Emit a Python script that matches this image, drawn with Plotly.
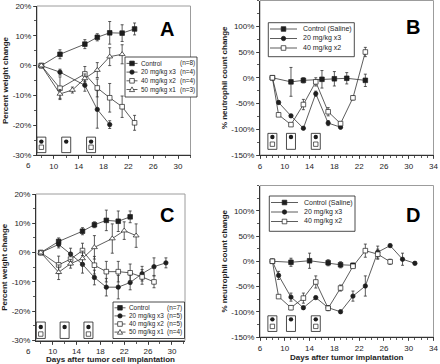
import plotly.graph_objects as go

W, H = 440, 364
FONT = "Liberation Sans, Arial, Helvetica, sans-serif"
INK = "#1e1e1e"
LINEC = "#333333"
FRAME = "#9c9c9c"

# ---------------- data ----------------
# Panel A - percent weight change
a_ctrl_days = [8, 11, 15, 17, 19, 21, 23]
a_ctrl = [0, 3.8, 7.2, 9.5, 11.0, 10.9, 12.3]
a_ctrl_err = [0, 1.5, 1.5, 1.2, 3.8, 2.8, 2.0]
a_20_days = [8, 11, 15, 17, 19]
a_20 = [0, -2.2, -6.6, -14.7, -19.8]
a_20_err = [0, 1.0, 2.0, 6.3, 1.3]
a_40_days = [8, 11, 15, 17, 19, 21, 23]
a_40 = [0, -7.6, -2.8, -7.5, -10.8, -13.8, -19.2]
a_40_err = [0, 3.8, 2.5, 3.0, 4.8, 3.6, 2.5]
a_50_days = [8, 11, 13, 15, 17, 19, 21]
a_50 = [0, -9.5, -8.2, -4.3, -1.5, 3.0, 3.8]
a_50_err = [0, 1.5, 1.0, 1.5, 2.5, 3.0, 3.2]

# Panel B - % neutrophil count change
b_ctrl_days = [8, 11, 13, 16, 18, 20, 23]
b_ctrl = [0, -8, -5, -3, -2, -1, -5]
b_ctrl_err = [0, 28, 5, 17, 14, 11, 12]
b_20_days = [8, 9, 11, 13, 15, 17, 19]
b_20 = [0, -48, -74, -98, -31, -88, -96]
b_20_err = [0, 3, 3, 2, 5, 5, 3]
b_40_days = [8, 9, 11, 13, 15, 17, 19, 21, 23]
b_40 = [0, -72, -91, -52, -8, -66, -89, -39, 50]
b_40_err = [0, 3, 3, 10, 8, 8, 3, 4, 9]

# Panel C - percent weight change
c_ctrl_days = [8, 11, 15, 17, 19, 21, 23]
c_ctrl = [0, 3.8, 7.3, 9.5, 11.0, 10.7, 12.2]
c_ctrl_err = [0, 1.2, 1.2, 1.0, 3.5, 3.5, 2.0]
c_20_days = [8, 11, 13, 15, 17, 19, 21, 23, 25, 27, 29]
c_20 = [0, 2.8, -0.5, -4.0, -8.5, -11.8, -11.8, -10.2, -7.2, -4.8, -3.5]
c_20_err = [0, 1.2, 2.0, 3.0, 2.5, 3.0, 4.0, 2.5, 2.5, 3.0, 1.7]
c_40_days = [8, 11, 13, 15, 17, 19, 21, 23, 25, 27]
c_40 = [0, -4.2, -2.2, 0.7, -4.3, -6.5, -6.5, -6.9, -8.3, -10.0]
c_40_err = [0, 3.0, 2.0, 2.5, 3.0, 3.5, 3.5, 3.0, 2.5, 2.0]
c_50_days = [8, 11, 13, 15, 17, 20, 22, 24]
c_50 = [0, -6.7, -3.8, -2.0, 1.8, 4.8, 7.5, 5.8]
c_50_err = [0, 2.5, 1.5, 2.5, 4.0, 5.0, 3.0, 4.0]

# Panel D - % neutrophil count change
d_ctrl_days = [8, 11, 14, 17, 19, 21]
d_ctrl = [0, -2, 1, -3, -7, -8]
d_ctrl_err = [0, 8, 15, 6, 6, 4]
d_20_days = [8, 9, 11, 13, 15, 17, 19, 21, 23, 25, 27, 29, 31]
d_20 = [0, -28, -71, -92, -72, -92, -100, -69, -49, 18, 31, 4, -4]
d_20_err = [0, 8, 8, 3, 3, 3, 3, 10, 20, 12, 3, 12, 3]
d_40_days = [8, 9, 11, 13, 15, 17, 19, 21, 23, 25, 27]
d_40 = [0, -70, -92, -73, -41, -93, -53, -10, 21, 14, -1]
d_40_err = [0, 3, 4, 10, 12, 5, 6, 3, 13, 10, 5]

# dosing days shown in the small boxes
dose_days_wt = [8, 12, 16]       # panels A, C
dose_days_neu = [8, 11, 15]      # panels B, D
dose40_index = [0, 2]            # boxes that also hold the 40 mg/kg marker

# legend texts
legend_wt = ["Control", "20 mg/kg x3", "40 mg/kg x2", "50 mg/kg x1"]
legend_a_n = ["(n=8)", "(n=4)", "(n=4)", "(n=3)"]
legend_c_n = ["(n=7)", "(n=5)", "(n=5)", "(n=4)"]
legend_neu = ["Control (Saline)", "20 mg/kg x3", "40 mg/kg x2"]

# tick labels
wt_ticks = [-30, -20, -10, 0, 10, 20]
neu_ticks = [-150, -100, -50, 0, 50, 100]
days_ticks_wt = [10, 14, 18, 22, 26, 30]
days_ticks_neu = [6, 10, 14, 18, 22, 26, 30, 34]

# ---------------- styles ----------------
STYLE = {
    "ctrl": dict(symbol="square", size=4.6, color=INK),
    "d20": dict(symbol="circle", size=4.4, color=INK),
    "d40": dict(symbol="square", size=4.6, color="white"),
    "d50": dict(symbol="triangle-up", size=5.2, color="white"),
}

# panel geometry (pixels: left, top, right, bottom) and axis ranges
PANEL = {
    "A": dict(ax="", box=(37, 6, 190.5, 155), xr=[7.3, 32.0], yr=[-30, 20]),
    "B": dict(ax="2", box=(260, 0.5, 433.5, 155), xr=[6, 34], yr=[-150, 150]),
    "C": dict(ax="3", box=(36, 194, 185, 340.5), xr=[7.2, 32.2], yr=[-30, 20]),
    "D": dict(ax="4", box=(260, 185.5, 433.5, 337), xr=[6, 34], yr=[-150, 150]),
}

SERIES = {
    "A": [("ctrl", a_ctrl_days, a_ctrl, a_ctrl_err), ("d20", a_20_days, a_20, a_20_err),
          ("d40", a_40_days, a_40, a_40_err), ("d50", a_50_days, a_50, a_50_err)],
    "B": [("ctrl", b_ctrl_days, b_ctrl, b_ctrl_err), ("d20", b_20_days, b_20, b_20_err),
          ("d40", b_40_days, b_40, b_40_err)],
    "C": [("ctrl", c_ctrl_days, c_ctrl, c_ctrl_err), ("d20", c_20_days, c_20, c_20_err),
          ("d40", c_40_days, c_40, c_40_err), ("d50", c_50_days, c_50, c_50_err)],
    "D": [("ctrl", d_ctrl_days, d_ctrl, d_ctrl_err), ("d20", d_20_days, d_20, d_20_err),
          ("d40", d_40_days, d_40, d_40_err)],
}

fig = go.Figure()

# data traces
for key, p in PANEL.items():
    xa, ya = "x" + p["ax"], "y" + p["ax"]
    for style, days, vals, errs in SERIES[key]:
        st = STYLE[style]
        fig.add_trace(go.Scatter(
            x=days, y=vals, mode="lines+markers", xaxis=xa, yaxis=ya,
            showlegend=False, cliponaxis=False,
            line=dict(color=LINEC, width=0.8),
            marker=dict(symbol=st["symbol"], size=st["size"], color=st["color"],
                        line=dict(color=INK, width=0.7)),
            error_y=dict(type="data", array=errs, color=LINEC, thickness=0.8, width=1.5),
        ))

# dose boxes + markers
DOSE = {
    "A": dict(days=dose_days_wt, lo=-29.2, hi=-24.0, c=-25.5, s=-27.4),
    "C": dict(days=dose_days_wt, lo=-29.3, hi=-23.7, c=-25.4, s=-27.8),
    "B": dict(days=dose_days_neu, lo=-139, hi=-108, c=-115, s=-129),
    "D": dict(days=dose_days_neu, lo=-139, hi=-108, c=-115, s=-129),
}
shapes = []
annotations = []
for key, dz in DOSE.items():
    p = PANEL[key]
    xa, ya = "x" + p["ax"], "y" + p["ax"]
    for d in dz["days"]:
        shapes.append(dict(type="rect", xref=xa, yref=ya, xsizemode="pixel", xanchor=d,
                           x0=-4.5, x1=4.5, y0=dz["lo"], y1=dz["hi"],
                           line=dict(color=INK, width=0.8), fillcolor="rgba(0,0,0,0)"))
    fig.add_trace(go.Scatter(x=dz["days"], y=[dz["c"]] * len(dz["days"]), mode="markers",
                             xaxis=xa, yaxis=ya, showlegend=False,
                             marker=dict(symbol="circle", size=4.4, color=INK)))
    sq_days = [dz["days"][i] for i in dose40_index]
    fig.add_trace(go.Scatter(x=sq_days, y=[dz["s"]] * len(sq_days), mode="markers",
                             xaxis=xa, yaxis=ya, showlegend=False,
                             marker=dict(symbol="square", size=4.4, color="white",
                                         line=dict(color=INK, width=0.7))))

# frames (grey top/right border)
for key, p in PANEL.items():
    shapes.append(dict(type="rect", xref="x" + p["ax"] + " domain", yref="y" + p["ax"] + " domain",
                       x0=0, x1=1, y0=0, y1=1, layer="below",
                       line=dict(color=FRAME, width=1)))


def px(x):
    return x / W


def py(y):
    return 1 - y / H


def legend_marker(style, xc, yc):
    st = STYLE[style]
    h = st["size"] / 2
    base = dict(xref="paper", yref="paper", xsizemode="pixel", ysizemode="pixel",
                xanchor=px(xc), yanchor=py(yc), line=dict(color=INK, width=0.7),
                fillcolor=st["color"], layer="above")
    if st["symbol"] == "square":
        return dict(type="rect", x0=-h, x1=h, y0=-h, y1=h, **base)
    if st["symbol"] == "circle":
        return dict(type="circle", x0=-h, x1=h, y0=-h, y1=h, **base)
    return dict(type="path", path=f"M{-h},{-h * 0.8} L{h},{-h * 0.8} L0,{h} Z", **base)


LEG = {
    "A": dict(box=(125, 57, 197, 97), rows=[63.4, 72.1, 80.8, 89.5], s0=126.5, s1=137.5,
              tx=139.5, nx=195.8, labels=legend_wt, n=legend_a_n),
    "C": dict(box=(113, 302, 184.5, 338.5), rows=[307.8, 315.9, 324.0, 332.1], s0=114.5, s1=125.5,
              tx=127.5, nx=183.3, labels=legend_wt, n=legend_c_n),
    "B": dict(box=(268.3, 22.7, 354.3, 56.7), rows=[29.0, 38.5, 48.0], s0=270, s1=297,
              tx=301.5, nx=None, labels=legend_neu, n=None),
    "D": dict(box=(269.3, 196, 355, 231.3), rows=[202.5, 212.0, 221.5], s0=271, s1=298,
              tx=302.5, nx=None, labels=legend_neu, n=None),
}
LEG_FONT = dict(size=6.4, color=INK, family=FONT)
LEG_FONT_NEU = dict(size=7.0, color=INK, family=FONT)
for key, lg in LEG.items():
    l, t, r, b = lg["box"]
    f = LEG_FONT if lg["n"] else LEG_FONT_NEU
    shapes.append(dict(type="rect", xref="paper", yref="paper", x0=px(l), x1=px(r), y0=py(b), y1=py(t),
                       line=dict(color=INK, width=0.8), fillcolor="white", layer="above"))
    styles = [s[0] for s in SERIES[key]]
    for i, (lab, yy) in enumerate(zip(lg["labels"], lg["rows"])):
        shapes.append(dict(type="line", xref="paper", yref="paper", x0=px(lg["s0"]), x1=px(lg["s1"]),
                           y0=py(yy), y1=py(yy), line=dict(color=LINEC, width=0.8), layer="above"))
        shapes.append(legend_marker(styles[i], (lg["s0"] + lg["s1"]) / 2, yy))
        annotations.append(dict(xref="paper", yref="paper", x=px(lg["tx"]), y=py(yy), text=lab,
                                showarrow=False, xanchor="left", yanchor="middle", font=f,
                                borderpad=0))
        if lg["n"]:
            annotations.append(dict(xref="paper", yref="paper", x=px(lg["nx"]), y=py(yy), text=lg["n"][i],
                                    showarrow=False, xanchor="right", yanchor="middle", font=f,
                                    borderpad=0))

# panel letters
LETTER_POS = {"A": (0.845, 0.845), "B": (0.884, 0.83), "C": (0.877, 0.855), "D": (0.884, 0.805)}
for key, (lx, ly) in LETTER_POS.items():
    p = PANEL[key]
    annotations.append(dict(xref="x" + p["ax"] + " domain", yref="y" + p["ax"] + " domain",
                            x=lx, y=ly, text=key, showarrow=False, xanchor="center", yanchor="middle",
                            font=dict(size=20, color="black", family=FONT, weight="bold")))

# "6" label left of the A / C axes (value lies just outside the drawn range)
for key in ("A", "C"):
    p = PANEL[key]
    r0, r1 = p["xr"]
    annotations.append(dict(xref="x" + p["ax"] + " domain", yref="y" + p["ax"] + " domain",
                            x=(6 - r0) / (r1 - r0), y=0, yshift=-4, text="6", showarrow=False,
                            xanchor="center", yanchor="top", font=dict(size=8, color=INK, family=FONT)))

layout_axes = {}
for key, p in PANEL.items():
    l, t, r, b = p["box"]
    wt = key in ("A", "C")
    xt = days_ticks_wt if wt else days_ticks_neu
    yt = wt_ticks if wt else neu_ticks
    xname = "xaxis" + p["ax"]
    yname = "yaxis" + p["ax"]
    xtitle = {"C": "Days after tumor cell implantation", "D": "Days after tumor implantation"}.get(key, "")
    ytitle = "Percent weight change" if wt else "% neutrophil count change"
    layout_axes[xname] = dict(
        domain=[px(l), px(r)], anchor="y" + p["ax"], range=p["xr"],
        tickmode="array", tickvals=xt, ticktext=[str(v) for v in xt],
        showline=True, linecolor=LINEC, linewidth=1, ticks="outside", ticklen=3,
        tickcolor=LINEC, tickwidth=0.8, showgrid=False, zeroline=False,
        tickfont=dict(size=8, color=INK, family=FONT),
        minor=dict(ticks="outside", ticklen=2, tickcolor=LINEC, dtick=1 if not wt else 2,
                   tick0=6, showgrid=False),
        title=dict(text=xtitle, standoff=1, font=dict(size=8, color=INK, family=FONT, weight="bold")),
        automargin=False,
    )
    layout_axes[yname] = dict(
        domain=[py(b), py(t)], anchor="x" + p["ax"], range=p["yr"],
        tickmode="array", tickvals=yt, ticktext=[f"{v}%" for v in yt],
        showline=True, linecolor=LINEC, linewidth=1, ticks="outside", ticklen=3,
        tickcolor=LINEC, tickwidth=0.8, showgrid=False, zeroline=False,
        tickfont=dict(size=8, color=INK, family=FONT),
        minor=dict(ticks="outside", ticklen=2, tickcolor=LINEC, dtick=5 if wt else 25,
                   tick0=0, showgrid=False),
        title=dict(text=ytitle, standoff=2, font=dict(size=8, color=INK, family=FONT, weight="bold")),
        automargin=False,
    )

fig.update_layout(
    width=W, height=H, margin=dict(l=0, r=0, t=0, b=0),
    paper_bgcolor="white", plot_bgcolor="white",
    font=dict(family=FONT, color=INK, size=8),
    shapes=shapes, annotations=annotations, showlegend=False,
    hovermode=False,
    **layout_axes,
)

fig.write_html("out.html", config={"displayModeBar": False, "staticPlot": True},
               post_script="document.body.style.margin='0px';")
